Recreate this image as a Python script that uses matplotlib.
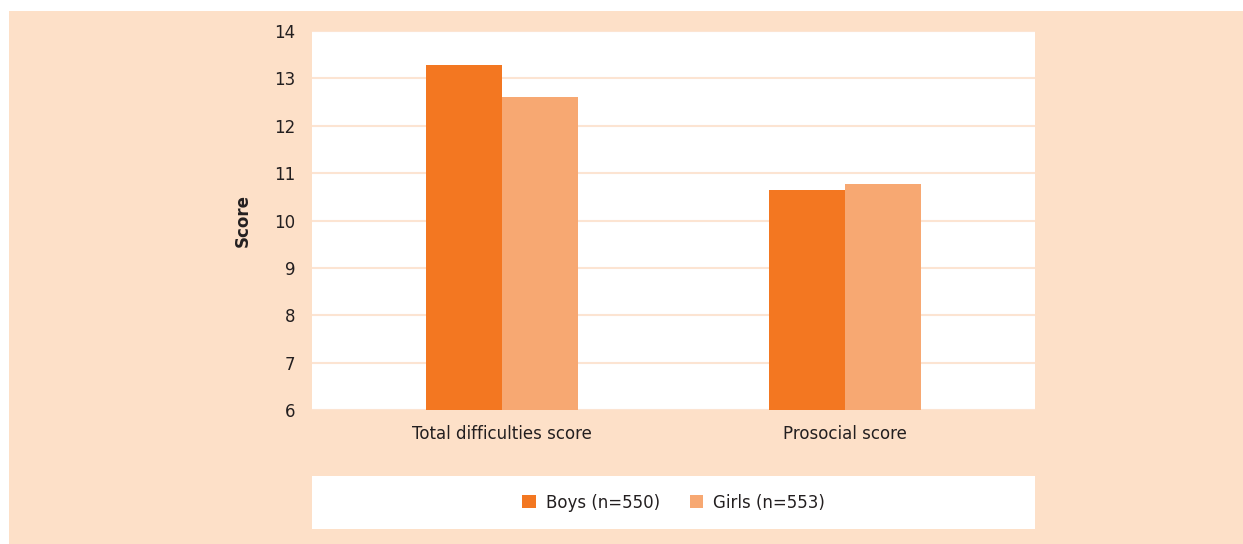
import matplotlib.pyplot as plt
import numpy as np
from matplotlib.patches import Rectangle

categories = ["Total difficulties score", "Prosocial score"]
boys = [13.28, 10.65]
girls = [12.61, 10.77]
series_labels = ["Boys (n=550)", "Girls (n=553)"]

BG = "#FDE0C8"
BOYS_C = "#F37721"
GIRLS_C = "#F7A872"
TXT = "#231F20"
GRID = "#FCE4D2"

plt.rcParams['font.family'] = ['DejaVu Sans']

W, H = 1243, 544
fig = plt.figure(figsize=(W / 100, H / 100), dpi=100)
fig.patch.set_facecolor("white")
fig.patches.append(Rectangle((9 / W, 0), 1 - 9 / W, 1 - 11 / H, transform=fig.transFigure,
                             facecolor=BG, edgecolor="none", zorder=-10))

ax = fig.add_axes([312 / W, 1 - 410 / H, (1035 - 312) / W, (410 - 31) / H])
ax.set_zorder(1)
ax.set_facecolor("white")
x = np.arange(len(categories))
w = 0.221
ax.bar(x - w / 2, np.array(boys) - 6, w, bottom=6, color=BOYS_C, label=series_labels[0], zorder=3)
ax.bar(x + w / 2, np.array(girls) - 6, w, bottom=6, color=GIRLS_C, label=series_labels[1], zorder=3)
ax.set_xlim(-0.552, 1.552)
ax.set_ylim(6, 14)
ax.set_yticks(range(6, 15))
ax.yaxis.grid(True, color=GRID, linewidth=1.5, zorder=0)
ax.set_axisbelow(True)
for s in ax.spines.values():
    s.set_visible(False)
ax.tick_params(axis="both", length=0, labelsize=12, colors=TXT)
ax.tick_params(axis="y", pad=12)
ax.tick_params(axis="x", pad=11)
ax.set_xticks(x)
ax.set_xticklabels(categories)
ax.set_ylabel("Score", fontsize=12, fontweight="bold", color=TXT, labelpad=16)

lax = fig.add_axes([312 / W, 1 - 529 / H, (1035 - 312) / W, (529 - 476) / H])
lax.set_zorder(1)
lax.set_facecolor("white")
lax.set_xticks([])
lax.set_yticks([])
for s in lax.spines.values():
    s.set_visible(False)
h, l = ax.get_legend_handles_labels()
lax.legend(h, l, loc="center", ncol=2, frameon=False, fontsize=12, handlelength=0.8,
           handleheight=0.8, handletextpad=0.6, columnspacing=1.8, labelcolor=TXT)

fig.savefig("out.png", dpi=100, facecolor=fig.get_facecolor())
